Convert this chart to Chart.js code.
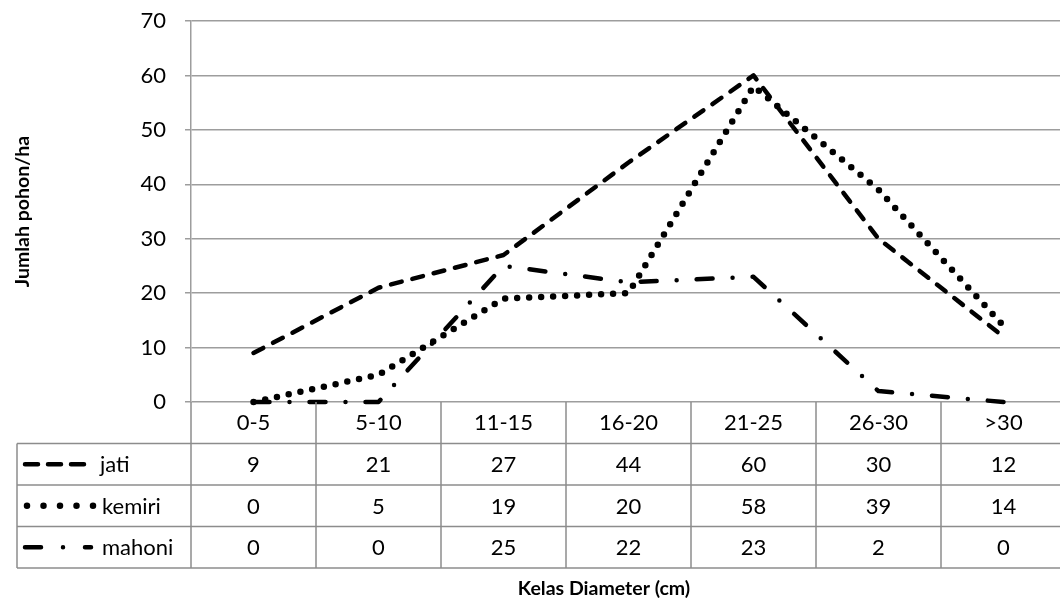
<!DOCTYPE html>
<html>
<head>
<meta charset="utf-8">
<script src="https://cdn.jsdelivr.net/npm/chart.js@4.4.0/dist/chart.umd.min.js"></script>
<style>
  html, body { margin: 0; padding: 0; overflow: hidden; background: #fff; }
  canvas { display: block; }
</style>
</head>
<body>
<canvas id="chart" width="1068" height="604"></canvas>
<script>
// Tree counts per diameter class
const categories = ['0-5', '5-10', '11-15', '16-20', '21-25', '26-30', '>30'];
const jati   = [9, 21, 27, 44, 60, 30, 12];
const kemiri = [0, 5, 19, 20, 58, 39, 14];
const mahoni = [0, 0, 25, 22, 23, 2, 0];
const seriesNames = ['jati', 'kemiri', 'mahoni'];
const yMin = 0, yMax = 70, yStep = 10;

const FONT = 'Lato, "Open Sans", sans-serif';
const GRID = '#9d9d9d';
const TABLE = '#8c8c8c';
const ROW_H = 41.5;
const TABLE_LEFT = 17;

// line styles: long dash, round dot, long dash-dot
const lineStyles = [
  { dash: [11, 11], width: 4.5, sample: [13, 10] },
  { dash: [0, 12], width: 6.5, sample: [0, 16.5] },
  { dash: [16, 20, 0, 20], width: 4.5, sample: [16, 22, 0, 22] }
];
const seriesValues = [jati, kemiri, mahoni];

// draws the data table beneath the plot, using the x scale for columns
const dataTable = {
  id: 'dataTable',
  afterDraw(chart) {
    const { ctx, chartArea, scales } = chart;
    const x = scales.x;
    const top = chartArea.bottom;
    const colW = (chartArea.right - chartArea.left) / categories.length;
    const bottom = top + ROW_H * 4;
    ctx.save();
    ctx.strokeStyle = TABLE;
    ctx.lineWidth = 1.5;
    // horizontal rules
    for (let r = 1; r <= 4; r++) {
      const y = top + ROW_H * r;
      ctx.beginPath();
      ctx.moveTo(TABLE_LEFT, y);
      ctx.lineTo(chartArea.right, y);
      ctx.stroke();
    }
    // left border of the legend column
    ctx.beginPath();
    ctx.moveTo(TABLE_LEFT, top + ROW_H);
    ctx.lineTo(TABLE_LEFT, bottom);
    ctx.stroke();
    // column separators
    for (let i = 0; i <= categories.length; i++) {
      const cx = chartArea.left + colW * i;
      ctx.beginPath();
      ctx.moveTo(cx, top);
      ctx.lineTo(cx, bottom);
      ctx.stroke();
    }
    // cell values
    ctx.fillStyle = '#000';
    ctx.font = '22px ' + FONT;
    ctx.textAlign = 'center';
    ctx.textBaseline = 'middle';
    seriesValues.forEach((vals, r) => {
      const cy = top + ROW_H * (r + 1.5);
      vals.forEach((v, i) => {
        ctx.fillText(String(v), x.getPixelForValue(i), cy + 1);
      });
    });
    // legend keys and names
    ctx.textAlign = 'left';
    seriesNames.forEach((name, r) => {
      const cy = top + ROW_H * (r + 1.5);
      const st = lineStyles[r];
      ctx.save();
      ctx.strokeStyle = '#000';
      ctx.lineWidth = st.width;
      ctx.lineCap = 'round';
      ctx.setLineDash(st.sample);
      ctx.beginPath();
      const x0 = r === 1 ? 27 : 25;
      const x1 = r === 0 ? 87 : (r === 1 ? 94 : 91);
      ctx.moveTo(x0, cy);
      ctx.lineTo(x1, cy);
      ctx.stroke();
      ctx.restore();
      ctx.fillText(name, r === 0 ? 100 : 102, cy + 1);
    });
    // axis title
    ctx.font = 'bold 19.5px ' + FONT;
    ctx.textAlign = 'center';
    ctx.fillText('Kelas Diameter (cm)', 604, 589);
    ctx.restore();
  }
};

const datasets = seriesNames.map((name, i) => ({
  label: name,
  data: seriesValues[i],
  borderColor: '#000',
  borderWidth: lineStyles[i].width,
  borderDash: lineStyles[i].dash,
  borderCapStyle: 'round',
  borderJoinStyle: 'round',
  pointRadius: 0,
  tension: 0,
  fill: false,
  clip: false
}));

new Chart(document.getElementById('chart'), {
  type: 'line',
  data: { labels: categories, datasets },
  options: {
    responsive: false,
    animation: false,
    layout: { padding: { top: 21, right: 2, left: 0, bottom: 0 } },
    plugins: { legend: { display: false }, tooltip: { enabled: false } },
    scales: {
      x: {
        offset: true,
        grid: { display: false, drawTicks: false },
        border: { display: false },
        ticks: { color: '#000', font: { family: FONT, size: 22 }, padding: 8, maxRotation: 0, autoSkip: false },
        afterFit(s) { s.height = 202; }
      },
      y: {
        min: yMin, max: yMax,
        ticks: { stepSize: yStep, color: '#000', font: { family: FONT, size: 22 }, padding: 19 },
        grid: { color: GRID, lineWidth: 1.5, tickLength: 6 },
        border: { color: GRID, width: 1.5 },
        title: {
          display: true, text: 'Jumlah pohon/ha', color: '#000',
          font: { family: FONT, size: 19.5, weight: 'bold' },
          padding: { top: 11, bottom: 0 }
        },
        afterFit(s) { s.width = 191; s.paddingTop = 0; s.paddingBottom = 0; }
      }
    }
  },
  plugins: [dataTable]
});
</script>
</body>
</html>
